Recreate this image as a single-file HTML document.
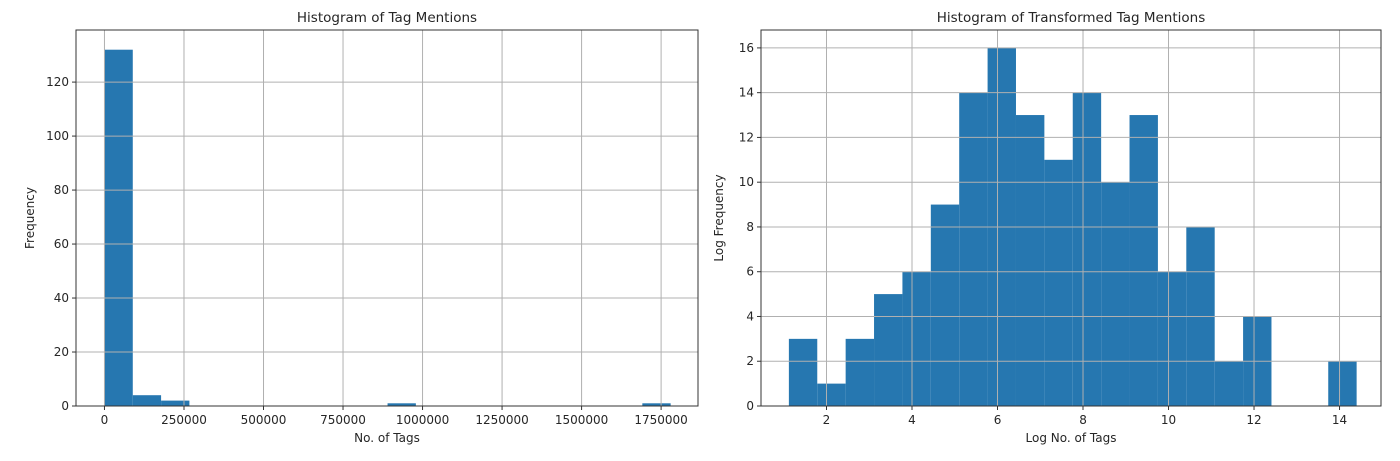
<!DOCTYPE html>
<html><head><meta charset="utf-8"><style>
body{margin:0;background:#fff;}
svg text{font-family:"DejaVu Sans","Liberation Sans",sans-serif;fill:#262626;}
</style></head><body>
<svg id="c" width="1400" height="456" xmlns="http://www.w3.org/2000/svg"></svg>
<script>
const leftCounts=[132,4,2,0,0,0,0,0,0,0,1,0,0,0,0,0,0,0,0,1];
const leftMin=0, leftMax=1780000;
const leftXTicks=[0,250000,500000,750000,1000000,1250000,1500000,1750000];
const leftYTicks=[0,20,40,60,80,100,120];
const rightCounts=[3,1,3,5,6,9,14,16,13,11,14,10,13,6,8,2,4,0,0,2];
const rightMin=1.12, rightMax=14.4;
const rightXTicks=[2,4,6,8,10,12,14];
const rightYTicks=[0,2,4,6,8,10,12,14,16];
const NS="http://www.w3.org/2000/svg";
const svg=document.getElementById('c');
function el(t,a,p){const e=document.createElementNS(NS,t);for(const k in a)e.setAttribute(k,a[k]);(p||svg).appendChild(e);return e;}
function chart(o){
  const g=el('g',{});
  
  
  const sx=v=>o.x0+(v-o.xmin)/(o.xmax-o.xmin)*(o.x1-o.x0);
  const sy=v=>o.y1-(v-0)/(o.ymax)*(o.y1-o.y0);
  const w=(o.max-o.min)/o.counts.length;
  o.counts.forEach((c,i)=>{
    if(c<=0)return;
    const a=sx(o.min+i*w),b=sx(o.min+(i+1)*w);
    const r=el('rect',{x:a,y:sy(c),width:b-a,height:sy(0)-sy(c),fill:'#2677b0'},g);
    
    
  });
  o.xt.forEach(t=>{
    const x=sx(t);
    el('line',{x1:x,x2:x,y1:o.y0,y2:o.y1,stroke:'#b0b0b0','stroke-width':1},g);
    el('line',{x1:x,x2:x,y1:o.y1,y2:o.y1+4,stroke:'#333'},g);
    const tx=el('text',{x:x,y:o.y1+18,'text-anchor':'middle','font-size':12},g);tx.textContent=t;
    
    
  });
  o.yt.forEach(t=>{
    const y=sy(t);
    el('line',{x1:o.x0,x2:o.x1,y1:y,y2:y,stroke:'#b0b0b0','stroke-width':1},g);
    el('line',{x1:o.x0-4,x2:o.x0,y1:y,y2:y,stroke:'#333'},g);
    const tx=el('text',{x:o.x0-7,y:y+4,'text-anchor':'end','font-size':12},g);tx.textContent=t;
    
    
  });
  el('rect',{x:o.x0,y:o.y0,width:o.x1-o.x0,height:o.y1-o.y0,fill:'none',stroke:'#333','stroke-width':1},g);
  const ti=el('text',{x:(o.x0+o.x1)/2,y:o.y0-8,'text-anchor':'middle','font-size':13.5},g);ti.textContent=o.title;
  
  
  const xl=el('text',{x:(o.x0+o.x1)/2,y:o.y1+36,'text-anchor':'middle','font-size':12},g);xl.textContent=o.xlabel;
  
  
  const yx=o.x0-o.ylOff;
  const yl=el('text',{x:yx,y:(o.y0+o.y1)/2,'text-anchor':'middle','font-size':12,transform:`rotate(-90 ${yx} ${(o.y0+o.y1)/2})`},g);yl.textContent=o.ylabel;
  
  
}
chart({name:'tag-mentions-histogram',counts:leftCounts,min:leftMin,max:leftMax,xt:leftXTicks,yt:leftYTicks,
  x0:76,x1:698,y0:30,y1:406,xmin:-89500,xmax:1866000,ymax:139.3,
  title:'Histogram of Tag Mentions',xlabel:'No. of Tags',ylabel:'Frequency',ylOff:42});
chart({name:'transformed-tag-mentions-histogram',counts:rightCounts,min:rightMin,max:rightMax,xt:rightXTicks,yt:rightYTicks,
  x0:761,x1:1381,y0:30,y1:406,xmin:0.468,xmax:14.97,ymax:16.8,
  title:'Histogram of Transformed Tag Mentions',xlabel:'Log No. of Tags',ylabel:'Log Frequency',ylOff:38});
</script>
</body></html>
